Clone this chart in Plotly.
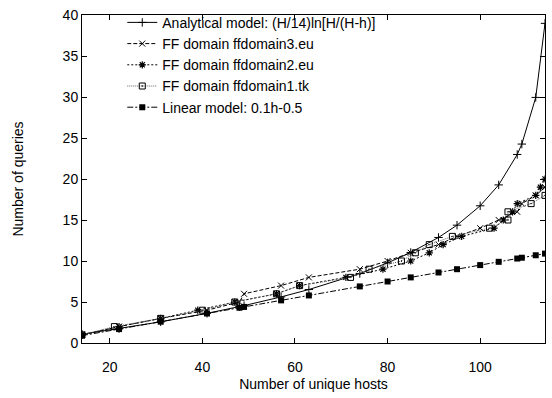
import plotly.graph_objects as go

# evaluation points (hosts) shared by analytical / linear model and ffdomain3
hosts_model = [14, 22, 31, 41, 48, 49, 57, 63, 74, 80, 85, 91, 95, 100, 104, 108, 109, 112, 114]
analytical = [1.07, 1.74, 2.58, 3.62, 4.44, 4.56, 5.62, 6.52, 8.47, 9.77, 11.04, 12.87,
              14.37, 16.73, 19.28, 22.99, 24.26, 29.95, 38.98]
linear = [0.9, 1.7, 2.6, 3.6, 4.3, 4.4, 5.2, 5.8, 6.9, 7.5, 8.0, 8.6, 9.0, 9.5, 9.9,
          10.3, 10.4, 10.7, 10.9]

ffd3_hosts = [14, 22, 31, 41, 48, 49, 57, 63, 74, 80, 85, 91, 95, 100, 104, 108, 109, 112, 114]
ffd3_queries = [1, 2, 3, 4, 5, 6, 7, 8, 9, 10, 11, 12, 13, 14, 15, 16, 17, 18, 19]

ffd2_hosts = [14, 22, 31, 39, 47, 56, 61, 71, 79, 85, 89, 92, 96, 103, 105, 107, 108, 112, 113, 114]
ffd2_queries = [1, 2, 3, 4, 5, 6, 7, 8, 9, 10, 11, 12, 13, 14, 15, 16, 17, 18, 19, 20]

ffd1_hosts = [14, 21, 31, 40, 47, 56, 61, 72, 76, 83, 86, 89, 94, 102, 106, 106, 111, 114]
ffd1_queries = [1, 2, 3, 4, 5, 6, 7, 8, 9, 10, 11, 12, 13, 14, 15, 16, 17, 18]

x_ticks = [20, 40, 60, 80, 100]
y_ticks = [0, 5, 10, 15, 20, 25, 30, 35, 40]

FONT = "Liberation Sans, Arial, Helvetica, sans-serif"

fig = go.Figure()
fig.add_trace(go.Scatter(
    x=hosts_model, y=analytical, mode="lines+markers",
    name="Analytical model: (H/14)ln[H/(H-h)]",
    line=dict(color="black", width=1, dash="solid"),
    marker=dict(symbol="cross-thin-open", size=6, color="black", line=dict(width=1, color="black"))))
fig.add_trace(go.Scatter(
    x=ffd3_hosts, y=ffd3_queries, mode="lines+markers",
    name="FF domain ffdomain3.eu",
    line=dict(color="black", width=1, dash="4px,2px"),
    marker=dict(symbol="x-thin-open", size=6, color="black", line=dict(width=1, color="black"))))
fig.add_trace(go.Scatter(
    x=ffd2_hosts, y=ffd2_queries, mode="lines+markers",
    name="FF domain ffdomain2.eu",
    line=dict(color="black", width=1, dash="2px,2px"),
    marker=dict(symbol="asterisk-open", size=6, color="black", line=dict(width=1.2, color="black"))))
fig.add_trace(go.Scatter(
    x=ffd1_hosts, y=ffd1_queries, mode="lines+markers",
    name="FF domain ffdomain1.tk",
    line=dict(color="#666666", width=1, dash="1px,1px"),
    marker=dict(symbol="square-open-dot", size=6, color="black", line=dict(width=1, color="black"))))
fig.add_trace(go.Scatter(
    x=hosts_model, y=linear, mode="lines+markers",
    name="Linear model: 0.1h-0.5",
    line=dict(color="black", width=1, dash="6px,2px,2px,2px"),
    marker=dict(symbol="square", size=6, color="black")))

axis_common = dict(
    showline=True, linecolor="black", linewidth=1, mirror="ticks",
    ticks="inside", ticklen=5, tickcolor="black", tickwidth=1,
    showgrid=False, zeroline=False,
    tickfont=dict(family=FONT, size=14, color="black"),
)

fig.update_layout(
    width=552, height=398,
    margin=dict(l=82, r=7, t=13, b=55),
    paper_bgcolor="white", plot_bgcolor="white",
    font=dict(family=FONT, size=14, color="black"),
    showlegend=True,
    legend=dict(x=0.087, y=1.025, xanchor="left", yanchor="top",
                bgcolor="rgba(0,0,0,0)", borderwidth=0,
                font=dict(family=FONT, size=14, color="black"),
                tracegroupgap=0, itemwidth=30),
    xaxis=dict(range=[14, 114], tickvals=x_ticks, ticklabelstandoff=11,
               title=dict(text="Number of unique hosts", font=dict(family=FONT, size=14), standoff=5),
               **axis_common),
    yaxis=dict(range=[0, 40], tickvals=y_ticks,
               title=dict(text="Number of queries", font=dict(family=FONT, size=14), standoff=35),
               **axis_common),
)

fig.write_html("out.html", config={"displayModeBar": False},
               post_script="document.body.style.margin='0px';document.body.style.padding='0px';")
